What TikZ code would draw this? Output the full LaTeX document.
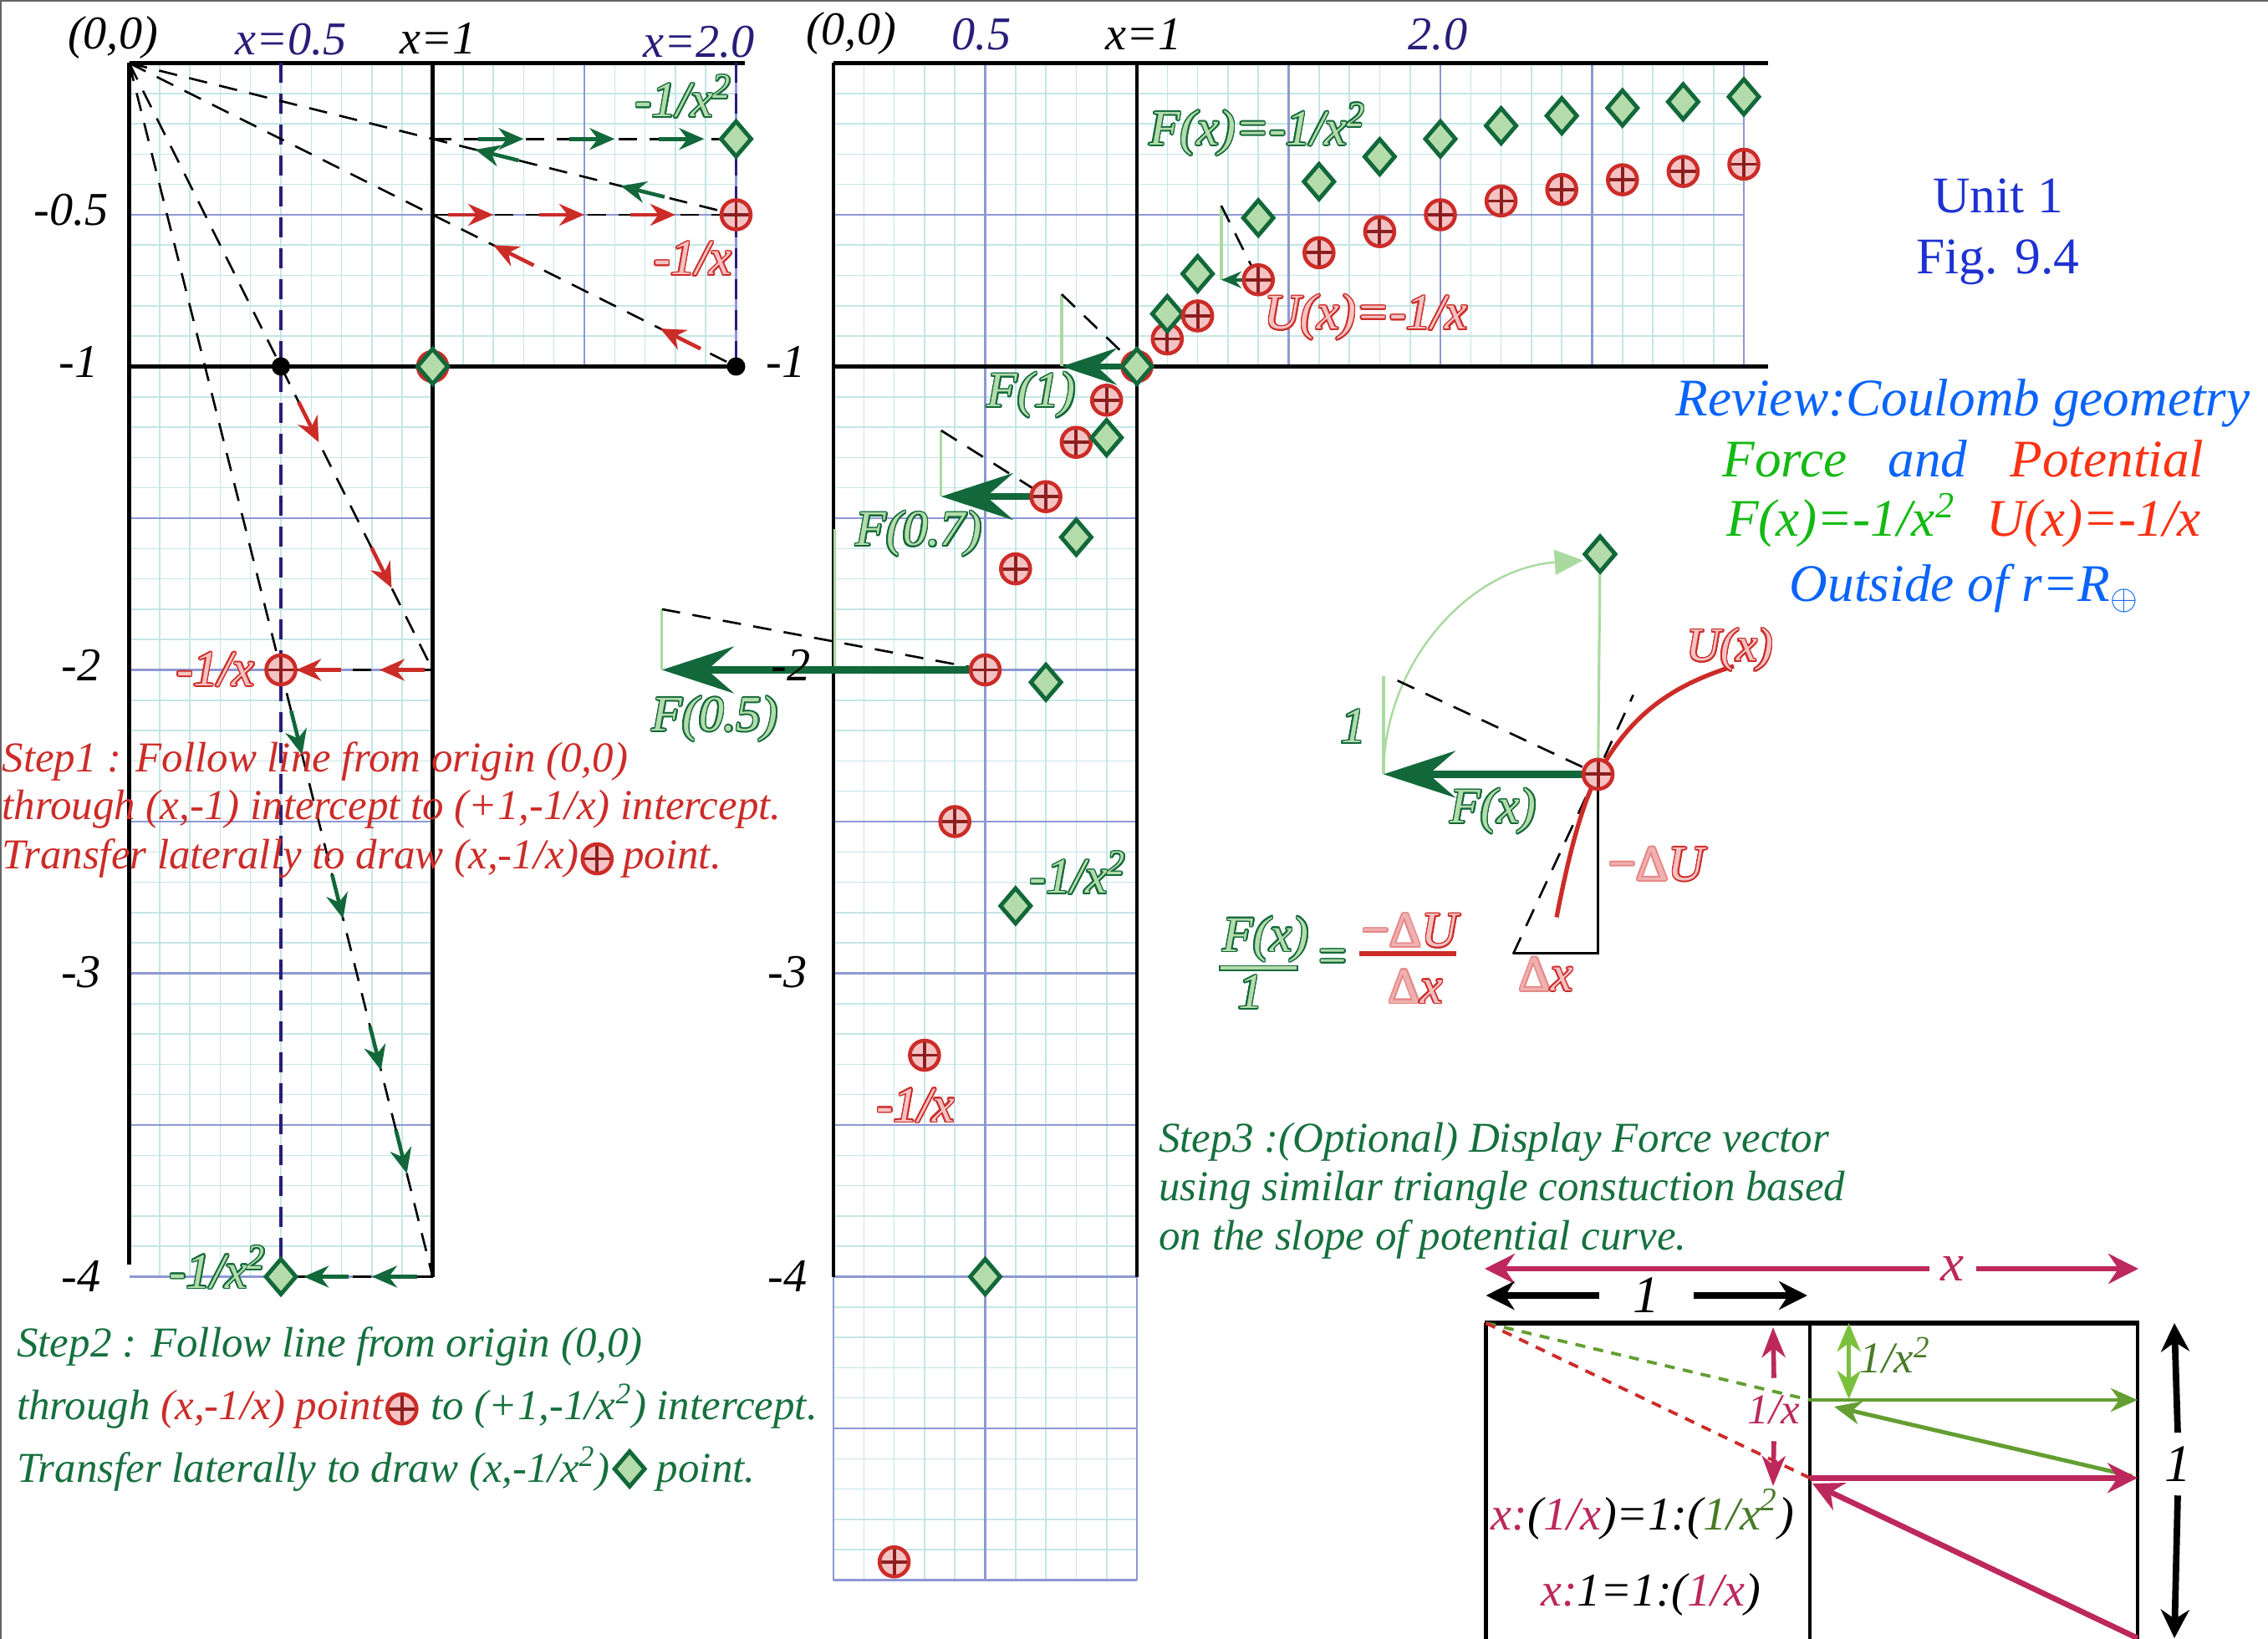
\documentclass[tikz,border=0pt]{standalone}
\usepackage{fontspec}
\setmainfont{Liberation Serif}
\usepackage[copies]{contour}
\usetikzlibrary{arrows.meta,positioning,shapes.geometric,decorations.markings,calc}

\definecolor{gridcyan}{RGB}{196,230,230}
\definecolor{gridblue}{RGB}{142,152,212}
\definecolor{navy}{RGB}{40,30,120}
\definecolor{fgreen}{RGB}{18,104,58}
\definecolor{flight}{RGB}{180,220,170}
\definecolor{lgreen}{RGB}{170,218,160}
\definecolor{ured}{RGB}{204,44,40}
\definecolor{upink}{RGB}{244,194,194}
\definecolor{udark}{RGB}{140,30,30}
\definecolor{palepink}{RGB}{240,176,176}
\definecolor{txtgreen}{RGB}{22,112,62}
\definecolor{brightgreen}{RGB}{20,185,20}
\definecolor{revblue}{RGB}{10,100,250}
\definecolor{unitblue}{RGB}{30,50,210}
\definecolor{potred}{RGB}{250,50,20}
\definecolor{mag}{RGB}{188,40,92}
\definecolor{boxgreen}{RGB}{100,158,50}
\definecolor{boxlgreen}{RGB}{122,192,60}
\definecolor{ratgreen}{RGB}{72,122,40}
\definecolor{framegray}{RGB}{100,100,100}

\contourlength{0.45pt}
\contournumber{16}
\newcommand{\olg}[1]{{\color{flight}\contour{fgreen}{#1}}}
\newcommand{\olr}[1]{{\color{upink}\contour{ured}{#1}}}
\newcommand{\olp}[1]{{\color{palepink}\contour{palepink!70!ured}{#1}}}
\newcommand{\sq}{\textsuperscript{2}}

\tikzset{
  opl/.style={circle,draw=ured,fill=upink,line width=1.3pt,minimum size=3.5mm,inner sep=0pt,
    path picture={\draw[udark,line width=1.1pt] (path picture bounding box.north) -- (path picture bounding box.south)
      (path picture bounding box.west) -- (path picture bounding box.east);}},
  dia/.style={diamond,draw=fgreen,fill=flight,line width=1.4pt,minimum width=3.8mm,minimum height=4.4mm,inner sep=0pt}
}

\begin{document}
\begin{tikzpicture}[
    minor/.style={gridcyan,line width=0.45pt},
    major/.style={gridblue,line width=0.75pt},
    axis/.style={black,line width=1.4pt},
    navydash/.style={navy,line width=1.1pt,dash pattern=on 2.4mm off 1.3mm},
    guide/.style={black,line width=0.75pt,dash pattern=on 2.2mm off 1.5mm},
    redflow/.style={postaction={decorate,decoration={markings,mark=at position #1 with
      {\draw[ured,solid,line width=1.3pt,-{Stealth[length=3mm,width=2.6mm]}] (-5.4mm,0) -- (0,0);}}}},
    greenflow/.style={postaction={decorate,decoration={markings,mark=at position #1 with
      {\draw[fgreen,solid,line width=1.3pt,-{Stealth[length=3mm,width=2.6mm]}] (-5.4mm,0) -- (0,0);}}}},
    dot/.style={circle,fill=black,minimum size=2.2mm,inner sep=0pt},
    axlbl/.style={font=\fontsize{16}{18}\selectfont\itshape,inner sep=0pt},
    ollbl/.style={font=\fontsize{17}{20}\selectfont\itshape,inner sep=0pt},
    steptxt/.style={font=\fontsize{14.5}{17}\selectfont\itshape,inner sep=0pt,anchor=base west},
    bigtxt/.style={font=\fontsize{18}{21}\selectfont\itshape,inner sep=0pt,anchor=base},
    fbig/.style={fgreen,line width=2.4pt,-{Stealth[length=8.6mm,width=5.6mm,inset=3.2mm]}},
    fmid/.style={fgreen,line width=2pt,-{Stealth[length=6.6mm,width=4.4mm,inset=2.4mm]}},
    fsmall/.style={fgreen,line width=1pt,-{Stealth[length=2.4mm,width=2mm,inset=0.8mm]}},
    lgline/.style={lgreen,line width=0.9pt},
    magarr/.style={mag,line width=1.9pt,-{Stealth[length=3.6mm,width=3.6mm,inset=1.2mm]}},
    blkarr/.style={black,line width=2.2pt,-{Stealth[length=3.4mm,width=3.4mm,inset=1.1mm]}},
    grnarr/.style={boxgreen,line width=1.4pt,-{Stealth[length=3.2mm,width=2.8mm,inset=1mm]}}
  ]
  \useasboundingbox (0,0) rectangle (27.13,-19.61);
  \draw[framegray,line width=1pt] (27.13,0) -- (0,0) -- (0,-19.61);

  % ---------- left graph ----------
  \begin{scope}[shift={(1.545,-0.755)},x=3.63cm,y=3.63cm]
    \foreach \i in {1,...,9} {
      \draw[minor] (\i/10,0) -- (\i/10,-4);
      \draw[minor] (1+\i/10,0) -- (1+\i/10,-1);
      \draw[minor] (0,-\i/10) -- (2,-\i/10);
    }
    \foreach \i in {11,...,39} \draw[minor] (0,-\i/10) -- (1,-\i/10);
    \draw[major] (1.5,0) -- (1.5,-1) (2,0) -- (2,-1) (0,-0.5) -- (2,-0.5);
    \foreach \y in {1.5,2,...,4} \draw[major] (0,-\y) -- (1,-\y);
    \draw[axis] (0,0) -- (2.03,0) (0,-1) -- (2.03,-1) (0,0) -- (0,-3.96) (1,0) -- (1,-4);
    \draw[navydash] (0.5,0) -- (0.5,-4) (2,0) -- (2,-1);
    % construction
    \coordinate (O) at (0,0);
    \coordinate (a1) at (1,-0.25);  \coordinate (a2) at (1,-0.5);
    \coordinate (a3) at (1,-2);     \coordinate (a4) at (1,-4);
    \coordinate (q2) at (2,-0.5);   \coordinate (r2) at (2,-0.25);
    \coordinate (q05) at (0.5,-2);  \coordinate (r05) at (0.5,-4);
    \coordinate (b2) at (2,-1);     \coordinate (b05) at (0.5,-1);
    \draw[guide] (O) -- (q2) (O) -- (b2) (O) -- (a3) (O) -- (a4);
    \draw[guide] (a1) -- (r2) (a2) -- (q2) (a3) -- (q05) (a4) -- (r05);
    \path[redflow=0.25,redflow=0.8] (b2) -- (a2);
    \path[redflow=0.2,redflow=0.5,redflow=0.8] (a2) -- (q2);
    \path[greenflow=0.38,greenflow=0.86] (q2) -- (a1);
    \path[greenflow=0.3,greenflow=0.6,greenflow=0.895] (a1) -- (r2);
    \path[redflow=0.25,redflow=0.73] (b05) -- (a3);
    \path[redflow=0.35,redflow=0.9] (a3) -- (q05);
    \path[greenflow=0.14,greenflow=0.41,greenflow=0.66,greenflow=0.83] (q05) -- (a4);
    \path[greenflow=0.4,greenflow=0.85] (a4) -- (r05);
    % points
    \node[dot] (kb05) at (b05) {};
    \node[dot] (kb2) at (b2) {};
    \node[opl] (lu2) at (q2) {};
    \node[dia] (lf2) at (r2) {};
    \node[opl] (lu05) at (q05) {};
    \node[dia] (lf05) at (r05) {};
    \node[opl] (lu1) at (1,-1) {};
    \node[dia] (lf1) at (1,-1) {};
  \end{scope}

  % ---------- right graph ----------
  \begin{scope}[shift={(9.97,-0.755)},x=3.63cm,y=3.63cm]
    \foreach \i in {1,...,9} {
      \draw[minor] (\i/10,0) -- (\i/10,-5);
      \draw[minor] (0,-\i/10) -- (3,-\i/10);
    }
    \foreach \i in {11,...,29} \draw[minor] (\i/10,0) -- (\i/10,-1);
    \foreach \i in {11,...,49} \draw[minor] (0,-\i/10) -- (1,-\i/10);
    \draw[major] (0.5,0) -- (0.5,-5) (0,-0.5) -- (3,-0.5);
    \foreach \x in {1.5,2,2.5,3} \draw[major] (\x,0) -- (\x,-1);
    \foreach \y in {1.5,2,...,5} \draw[major] (0,-\y) -- (1,-\y);
    \draw[major] (0,-4) -- (0,-5) (1,-4) -- (1,-5);
    \draw[axis] (0,0) -- (3.08,0) (0,-1) -- (3.08,-1) (0,0) -- (0,-4) (1,0) -- (1,-4);
    % force constructions
    \coordinate (p05) at (0.5,-2);        \coordinate (t05) at (-0.565,-2);  \coordinate (h05) at (-0.565,-1.80);
    \coordinate (p07) at (0.7,{-1/0.7});  \coordinate (t07) at (0.355,{-1/0.7}); \coordinate (h07) at (0.355,-1.211);
    \coordinate (p1) at (1,-1);           \coordinate (t1) at (0.752,-1);    \coordinate (h1) at (0.752,-0.762);
    \coordinate (p14) at (1.4,{-1/1.4});  \coordinate (t14) at (1.278,{-1/1.4}); \coordinate (h14) at (1.278,-0.470);
    \coordinate (g0a) at (0.005,-1.537);  \coordinate (g0b) at (0.005,-2);
    \draw[lgline] (h05) -- (t05) (h07) -- (t07) (h1) -- (t1) (h14) -- (t14) (g0a) -- (g0b);
    \draw[guide] (h05) -- (p05) (h07) -- (p07) (h1) -- (p1) (h14) -- (p14);
    \draw[fbig] (p05) -- (t05);
    \draw[fbig] (p07) -- (t07);
    \draw[fmid] (p1) -- (t1);
    \draw[fsmall] (p14) -- (t14);
    % U(x)=-1/x and F(x)=-1/x^2 samples
    \foreach \x/\n in {1.1/a,1.2/b,1.4/c,1.6/d,1.8/e,2.0/f,2.2/g,2.4/h,2.6/i,2.8/j,3.0/k} {
      \node[opl] (U\n) at (\x,{-1/\x}) {};
      \node[dia] (F\n) at (\x,{-1/(\x*\x)}) {};
    }
    \foreach \x/\y/\n in {0.2/-4.94/a,0.3/-3.27/b,0.4/-2.5/c,0.5/-2/d,0.6/-1.667/e,0.7/-1.429/f,0.8/-1.25/g,0.9/-1.111/h}
      \node[opl] (V\n) at (\x,\y) {};
    \foreach \x/\n in {0.5/a,0.6/b,0.7/c,0.8/d,0.9/e}
      \node[dia] (G\n) at (\x,{-1/(\x*\x)}) {};
    \node[opl] (U1) at (p1) {};
    \node[dia] (F1) at (p1) {};
  \end{scope}

  % axis labels
  \node[axlbl,anchor=base] (o1) at (1.35,-0.584) {(0,0)};
  \node[axlbl,anchor=base,text=navy] (xh1) at (3.48,-0.653) {x=0.5};
  \node[axlbl,anchor=base] (xo1) at (5.24,-0.65) {x=1};
  \node[axlbl,anchor=base,text=navy] (xt1) at (8.36,-0.69) {x=2.0};
  \node[axlbl,anchor=base east] (ya1) at (1.303,-2.70) {-0.5};
  \node[axlbl,anchor=base east] (yb1) at (1.18,-4.515) {-1};
  \node[axlbl,anchor=base east] (yc1) at (1.21,-8.15) {-2};
  \node[axlbl,anchor=base east] (yd1) at (1.21,-11.81) {-3};
  \node[axlbl,anchor=base east] (ye1) at (1.21,-15.45) {-4};
  \node[axlbl,anchor=base] (o2) at (10.18,-0.536) {(0,0)};
  \node[axlbl,anchor=base,text=navy] (xh2) at (11.74,-0.60) {0.5};
  \node[axlbl,anchor=base] (xo2) at (13.68,-0.60) {x=1};
  \node[axlbl,anchor=base,text=navy] (xt2) at (17.20,-0.60) {2.0};
  \node[axlbl,anchor=base east] (yb2) at (9.64,-4.515) {-1};
  \node[axlbl,anchor=base east] (yc2) at (9.70,-8.15) {-2};
  \node[axlbl,anchor=base east] (yd2) at (9.66,-11.81) {-3};
  \node[axlbl,anchor=base east] (ye2) at (9.66,-15.45) {-4};

  % outlined labels
  \node[ollbl,anchor=base east] (lfl) at (8.76,-1.40) {\olg{-1/x\sq}};
  \node[ollbl,anchor=base east] (lul) at (8.76,-3.29) {\olr{-1/x}};
  \node[ollbl,anchor=base east] (lul05) at (3.05,-8.205) {\olr{-1/x}};
  \node[ollbl,anchor=base east] (lfl05) at (3.19,-15.41) {\olg{-1/x\sq}};
  \node[ollbl,anchor=base west] (rfl) at (13.746,-1.735) {\olg{F(x)=-1/x\sq}};
  \node[ollbl,anchor=base west] (rul) at (15.12,-3.94) {\olr{U(x)=-1/x}};
  \node[ollbl,anchor=base west] (fl1) at (11.80,-4.87) {\olg{F(1)}};
  \node[ollbl,anchor=base west] (fl07) at (10.23,-6.53) {\olg{F(0.7)}};
  \node[ollbl,anchor=base west] (fl05) at (7.79,-8.745) {\olg{F(0.5)}};
  \node[ollbl,anchor=base west] (rfl2) at (12.31,-10.69) {\olg{-1/x\sq}};
  \node[ollbl,anchor=base west] (rul2) at (10.48,-13.42) {\olr{-1/x}};

  % ---------- slope construction ----------
  \coordinate (P) at (19.116,-9.264);
  \coordinate (Ptip) at (16.55,-9.264);
  \coordinate (Ptop) at (16.55,-8.086);
  \coordinate (Pdash) at (16.717,-8.143);
  \coordinate (tanA) at (18.10,-11.415);
  \coordinate (tanB) at (19.537,-8.315);
  \coordinate (Pbot) at (19.116,-11.408);
  \coordinate (Pleft) at (18.10,-11.408);
  \coordinate (cA) at (18.62,-10.975);
  \coordinate (cB) at (20.74,-7.97);
  \node[dia] (Fd) at (19.14,-6.63) {};
  \draw[lgline] (P) -- (Fd);
  \draw[lgline,line width=0.7pt,-{Triangle[length=3.4mm,width=3mm]}] (Ptip) arc[start angle=180,end angle=94,radius=2.566cm];
  \draw[lgline] (Ptop) -- (Ptip);
  \draw[guide] (Pdash) -- (P);
  \draw[guide] (tanA) -- (tanB);
  \draw[black,line width=0.9pt] (P) -- (Pbot) -- (Pleft);
  \draw[ured,line width=1.5pt] (cA) .. controls (18.77,-10.20) and (18.93,-9.60) .. (P)
    .. controls (19.50,-8.55) and (20.00,-8.20) .. (cB);
  \draw[fbig] (P) -- (Ptip);
  \node[opl] (UP) at (P) {};
  \node[dia] (FdP) at (Fd) {};

  \node[ollbl,font=\fontsize{16}{19}\selectfont\itshape,anchor=base west] (ulab) at (20.17,-7.91) {\olr{U(x)}};
  \node[ollbl,anchor=base] (onelab) at (16.19,-8.89) {\olg{1}};
  \node[ollbl,anchor=base west] (fxlab) at (17.34,-9.846) {\olg{F(x)}};
  \node[ollbl,anchor=base west] (dulab) at (19.23,-10.535) {\olp{\upshape −Δ}\olr{U}};
  \node[ollbl,anchor=base west] (dxlab) at (18.16,-11.855) {\olp{\upshape Δ}\olr{x}};

  % F(x)/1 = -dU/dx
  \node[ollbl,anchor=base west] (fnum) at (14.62,-11.38) {\olg{F(x)}};
  \draw[fgreen,fill=flight,line width=0.4pt] (14.59,-11.555) rectangle (15.52,-11.61);
  \node[ollbl,anchor=base] (fden) at (14.96,-12.067) {\olg{1}};
  \node[ollbl] (feqs) at (15.94,-11.51) {\olg{=}};
  \node[ollbl,anchor=base west] (unum) at (16.28,-11.33) {\olp{\upshape −Δ}\olr{U}};
  \draw[ured,line width=1.6pt] (16.255,-11.407) -- (17.415,-11.407);
  \node[ollbl,anchor=base west] (uden) at (16.60,-12.00) {\olp{\upshape Δ}\olr{x}};

  % ---------- title block ----------
  \node[font=\fontsize{17.5}{20}\selectfont,text=unitblue,anchor=base,inner sep=0pt] (unit) at (23.90,-2.55) {Unit 1};
  \node[font=\fontsize{17.5}{20}\selectfont,text=unitblue,anchor=base,inner sep=0pt] (fig) at (23.90,-3.28) {Fig. 9.4};
  \node[bigtxt,text=revblue] (rev) at (23.48,-4.98) {Review:Coulomb geometry};
  \node[bigtxt,text=brightgreen] (frc) at (21.35,-5.71) {Force};
  \node[bigtxt,text=revblue] (andw) at (23.06,-5.71) {and};
  \node[bigtxt,text=potred] (pot) at (25.205,-5.71) {Potential};
  \node[bigtxt,text=brightgreen] (feq) at (22.02,-6.418) {F(x)=-1/x\sq};
  \node[bigtxt,text=potred] (ueq) at (25.045,-6.418) {U(x)=-1/x};
  \node[bigtxt,text=revblue] (outs) at (23.50,-7.20) {Outside of r=R\textsubscript{$\oplus$}};

  % ---------- step texts ----------
  \node[steptxt,text=ured] (s1a) at (0.02,-9.234) {Step1 : Follow line from origin (0,0)};
  \node[steptxt,text=ured] (s1b) at (0.02,-9.804) {through (x,-1) intercept to (+1,-1/x) intercept.};
  \node[steptxt,text=ured] (s1c) at (0.02,-10.40) {Transfer laterally to draw (x,-1/x)};
  \node[opl,right=0.5pt of s1c] (s1m) {};
  \node[steptxt,text=ured] (s1d) at ($(s1m.east |- s1c.base)+(3pt,0)$) {point.};

  \node[steptxt,text=txtgreen] (s2a) at (0.196,-16.23) {Step2 : Follow line from origin (0,0)};
  \node[steptxt,text=txtgreen] (s2b) at (0.196,-16.98) {through \textcolor{ured}{(x,-1/x) point}};
  \node[opl,right=0.5pt of s2b] (s2m) {};
  \node[steptxt,text=txtgreen] (s2c) at ($(s2m.east |- s2b.base)+(4pt,0)$) {to (+1,-1/x\sq) intercept.};
  \node[steptxt,text=txtgreen] (s2d) at (0.196,-17.73) {Transfer laterally to draw (x,-1/x\sq)};
  \node[dia,right=0.5pt of s2d] (s2n) {};
  \node[steptxt,text=txtgreen] (s2e) at ($(s2n.east |- s2d.base)+(3pt,0)$) {point.};

  \node[steptxt,text=txtgreen] (s3a) at (13.856,-13.783) {Step3 :(Optional) Display Force vector};
  \node[steptxt,text=txtgreen] (s3b) at (13.856,-14.367) {using similar triangle constuction based};
  \node[steptxt,text=txtgreen] (s3c) at (13.856,-14.95) {on the slope of potential curve.};

  % ---------- similar triangles box ----------
  \coordinate (bO) at (17.775,-15.83);
  \coordinate (bG) at (21.65,-16.75);
  \coordinate (bR) at (21.65,-17.683);
  \coordinate (bGe) at (25.57,-16.75);
  \coordinate (bRe) at (25.57,-17.683);
  \coordinate (bC) at (25.57,-19.60);
  \coordinate (gS) at (25.50,-17.66);
  \coordinate (gT) at (21.94,-16.83);
  \coordinate (mT) at (21.68,-17.75);
  \draw[black,line width=1.15pt] (17.775,-19.61) -- (bO) (25.57,-15.83) -- (25.57,-19.61);
  \draw[black,line width=1.6pt] (17.76,-15.83) -- (25.585,-15.83);
  \draw[black,line width=0.9pt] (21.65,-15.83) -- (21.65,-19.61);
  \draw[boxgreen,line width=1.1pt,dash pattern=on 1.2mm off 1mm] (bO) -- (bG);
  \draw[ured,line width=1.1pt,dash pattern=on 1.2mm off 1mm] (bO) -- (bR);
  \draw[grnarr] (bG) -- (bGe);
  \draw[grnarr] (gS) -- (gT);
  \draw[magarr] (bR) -- (bRe);
  \draw[magarr] (bC) -- (mT);

  \node[font=\fontsize{18}{20}\selectfont\itshape,text=mag,inner xsep=1.3mm,inner ysep=0pt] (xlab) at (23.36,-15.18) {x};
  \draw[magarr] (xlab.west) -- (17.76,-15.18);
  \draw[magarr] (xlab.east) -- (25.58,-15.18);
  \node[font=\fontsize{18}{20}\selectfont\itshape,inner xsep=4mm,inner ysep=0pt] (onetop) at (19.695,-15.50) {1};
  \draw[blkarr] (onetop.west) -- (17.775,-15.50);
  \draw[blkarr] (onetop.east) -- (21.62,-15.50);
  \node[font=\fontsize{14.5}{17}\selectfont\itshape,text=mag,inner xsep=0pt,inner ysep=2mm] (invx) at (21.22,-16.865) {1/x};
  \draw[mag,line width=1.6pt,-{Stealth[length=3.6mm,width=2.8mm,inset=1.1mm]}] (invx.north) -- (21.21,-15.88);
  \draw[mag,line width=1.6pt,-{Stealth[length=3.6mm,width=2.8mm,inset=1.1mm]}] (invx.south) -- (21.21,-17.78);
  \coordinate (gv1) at (22.116,-15.83);
  \coordinate (gv2) at (22.116,-16.74);
  \draw[boxlgreen,line width=1.4pt,{Stealth[length=3.4mm,width=2.8mm,inset=1mm]}-{Stealth[length=3.4mm,width=2.8mm,inset=1mm]}] (gv1) -- (gv2);
  \node[font=\fontsize{15}{17}\selectfont\itshape,text=ratgreen,anchor=west,inner sep=0pt] (invx2) at (22.24,-16.217) {1/x\sq};
  \node[font=\fontsize{18}{20}\selectfont\itshape,inner xsep=0pt,inner ysep=1.6mm] (oneside) at (26.05,-17.517) {1};
  \draw[blkarr] (oneside.north) -- (26.01,-15.83);
  \draw[blkarr] (oneside.south) -- (26.01,-19.60);

  \node[font=\fontsize{16}{18}\selectfont\itshape,anchor=base,inner sep=0pt] (rat1) at (19.65,-18.30)
    {\textcolor{mag}{x:}(\textcolor{mag}{1/x})=1:(\textcolor{ratgreen}{1/x\sq})};
  \node[font=\fontsize{16}{18}\selectfont\itshape,anchor=base,inner sep=0pt] (rat2) at (19.745,-19.217)
    {\textcolor{mag}{x:}1=1:(\textcolor{mag}{1/x})};
\end{tikzpicture}
\end{document}
